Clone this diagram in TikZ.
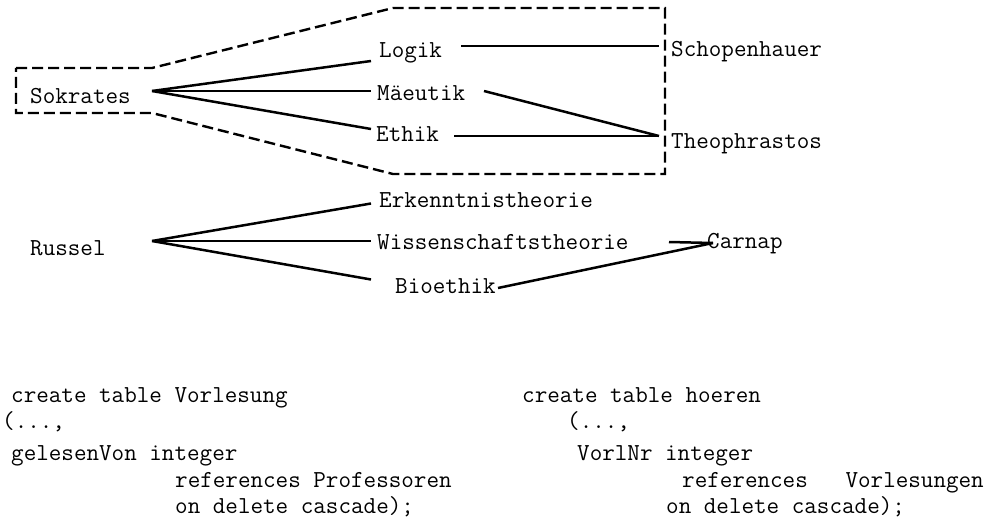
\documentclass[tikz,border=0pt]{standalone}
\tikzset{
  lbl/.style={anchor=base west, inner sep=0pt, font=\fontsize{24.4}{29}\selectfont\ttfamily},
  con/.style={line width=2.5pt},
  dsh/.style={line width=2.4pt, dash pattern=on 11pt off 5pt},
}
\begin{document}
\begin{tikzpicture}[x=1pt,y=-1pt]
\useasboundingbox (0,0) rectangle (989,519);
% dashed outline
\draw[dsh] (16,68) -- (152,68) -- (393,8) -- (665,8) -- (665,174) -- (393,174) -- (152,113) -- (16,113) -- cycle;

% upper group
\node[lbl] (sokrates) at (30,103) {Sokrates};
\node[lbl] (logik) at (379,58) {Logik};
\node[lbl] (maeeutik) at (377,100) {Mäeutik};
\node[lbl] (ethik) at (376,141.5) {Ethik};
\node[lbl] (schop) at (671,57) {Schopenhauer};
\node[lbl] (theo) at (671,148) {Theophrastos};
\coordinate (sokhub) at (152,91);
\coordinate (logikin) at (371,61);
\coordinate (maein) at (371,91);
\coordinate (ethin) at (371,129);
\coordinate (logikout) at (461,46);
\coordinate (schopin) at (659,46);
\coordinate (maeout) at (484,91);
\coordinate (ethout) at (454,136);
\coordinate (theoin) at (659,136);
\draw[con] (sokhub) -- (logikin);
\draw[con] (sokhub) -- (maein);
\draw[con] (sokhub) -- (ethin);
\draw[con] (logikout) -- (schopin);
\draw[con] (maeout) -- (theoin);
\draw[con] (ethout) -- (theoin);

% lower group
\node[lbl] (russel) at (30,255) {Russel};
\node[lbl] (erk) at (379,207) {Erkenntnistheorie};
\node[lbl] (wis) at (377,249) {Wissenschaftstheorie};
\node[lbl] (bio) at (395,293) {Bioethik};
\node[lbl] (carnap) at (707,248) {Carnap};
\coordinate (russhub) at (152,241);
\coordinate (erkin) at (371,203.5);
\coordinate (wisin) at (371,241);
\coordinate (bioin) at (371,279.5);
\coordinate (wisout) at (669,242);
\coordinate (bioout) at (498,288);
\coordinate (carnapin) at (713,243);
\draw[con] (russhub) -- (erkin);
\draw[con] (russhub) -- (wisin);
\draw[con] (russhub) -- (bioin);
\draw[con] (wisout) -- (carnapin);
\draw[con] (bioout) -- (carnapin);

% SQL code
\node[lbl] (l1) at (11,402) {create table Vorlesung};
\node[lbl] (l2) at (2,428) {(...,};
\node[lbl] (l3) at (11,460) {gelesenVon integer};
\node[lbl] (l4) at (175,487) {references Professoren};
\node[lbl] (l5) at (175,513) {on delete cascade);};
\node[lbl] (r1) at (522,402) {create table hoeren};
\node[lbl] (r2) at (567,428) {(...,};
\node[lbl] (r3) at (577,460) {VorlNr integer};
\node[lbl] (r4) at (682,487) {references\ \ \ Vorlesungen};
\node[lbl] (r5) at (666,513) {on delete cascade);};
\end{tikzpicture}
\end{document}
